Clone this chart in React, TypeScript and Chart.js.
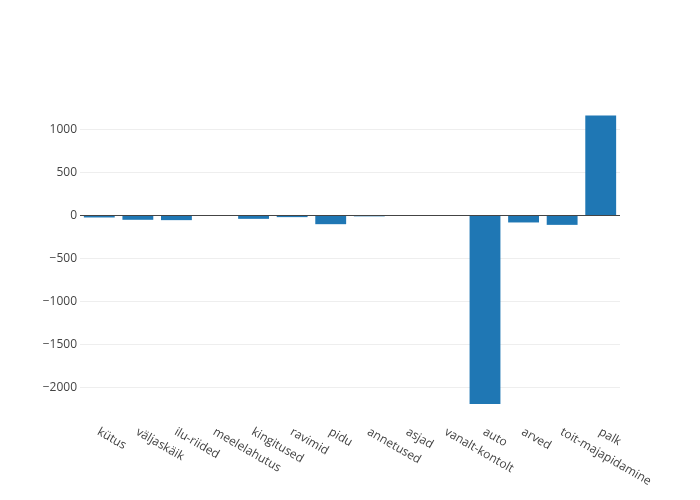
import React, { useEffect, useRef } from "react";
import { Chart, registerables } from "chart.js";

Chart.register(...registerables);

const categories = [
  "kütus",
  "väljaskäik",
  "ilu-riided",
  "meelelahutus",
  "kingitused",
  "ravimid",
  "pidu",
  "annetused",
  "asjad",
  "vanalt-kontolt",
  "auto",
  "arved",
  "toit-majapidamine",
  "palk",
];
const values = [-23, -50, -54, -4, -39, -19, -101, -10, -2, 0, -2192, -81, -109, 1163];
const yTicks = [1000, 500, 0, -500, -1000, -1500, -2000];
const yMin = -2378;
const yMax = 1343;

const FONT = '"Open Sans", "Noto Sans", sans-serif';

const overlayPlugin = {
  id: "plotlyOverlay",
  afterDatasetsDraw(chart: any) {
    const { ctx, chartArea, scales } = chart;
    const y = scales.y;
    const x = scales.x;
    ctx.save();
    // zero line
    const y0 = Math.round(y.getPixelForValue(0)) + 0.5;
    ctx.strokeStyle = "#444";
    ctx.lineWidth = 1;
    ctx.beginPath();
    ctx.moveTo(chartArea.left, y0);
    ctx.lineTo(chartArea.right, y0);
    ctx.stroke();
    // rotated x labels
    ctx.fillStyle = "#444";
    ctx.font = "12px " + FONT;
    ctx.textAlign = "left";
    ctx.textBaseline = "middle";
    categories.forEach((c, i) => {
      const px = x.getPixelForValue(i);
      ctx.save();
      ctx.translate(px - 1, chartArea.bottom + 11);
      ctx.rotate(Math.PI / 6);
      ctx.fillText(c, 0, 0);
      ctx.restore();
    });
    ctx.restore();
  },
};

export default function App() {
  const ref = useRef<HTMLCanvasElement>(null);
  useEffect(() => {
    const chart = new Chart(ref.current!, {
      type: "bar",
      data: {
        labels: categories,
        datasets: [
          {
            data: values,
            backgroundColor: "#1f77b4",
            borderWidth: 0,
            categoryPercentage: 1,
            barPercentage: 0.8,
          },
        ],
      },
      options: {
        animation: false,
        responsive: false,
        layout: { padding: { top: 100, right: 80, left: 0, bottom: 0 } },
        plugins: { legend: { display: false }, tooltip: { enabled: false } },
        scales: {
          x: {
            ticks: { display: false },
            grid: { display: false },
            border: { display: false },
            afterFit: (s: any) => {
              s.height = 80;
            },
          },
          y: {
            min: yMin,
            max: yMax,
            afterBuildTicks: (s: any) => {
              s.ticks = yTicks.map((v) => ({ value: v }));
            },
            afterFit: (s: any) => {
              s.width = 80;
            },
            ticks: {
              padding: 3,
              color: "#444",
              font: { family: FONT, size: 12 },
              callback: (v: any) => String(v).replace("-", "\u2212"),
            },
            grid: {
              drawTicks: false,
              color: (c: any) => (c.tick && c.tick.value === 0 ? "rgba(0,0,0,0)" : "#eeeeee"),
              lineWidth: 1,
            },
            border: { display: false },
          },
        },
      },
      plugins: [overlayPlugin],
    });
    return () => chart.destroy();
  }, []);
  return (
    <div style={{ position: "fixed", left: 0, top: 0, width: 700, height: 500, background: "#fff" }}>
      <canvas ref={ref} width={700} height={500} />
    </div>
  );
}
